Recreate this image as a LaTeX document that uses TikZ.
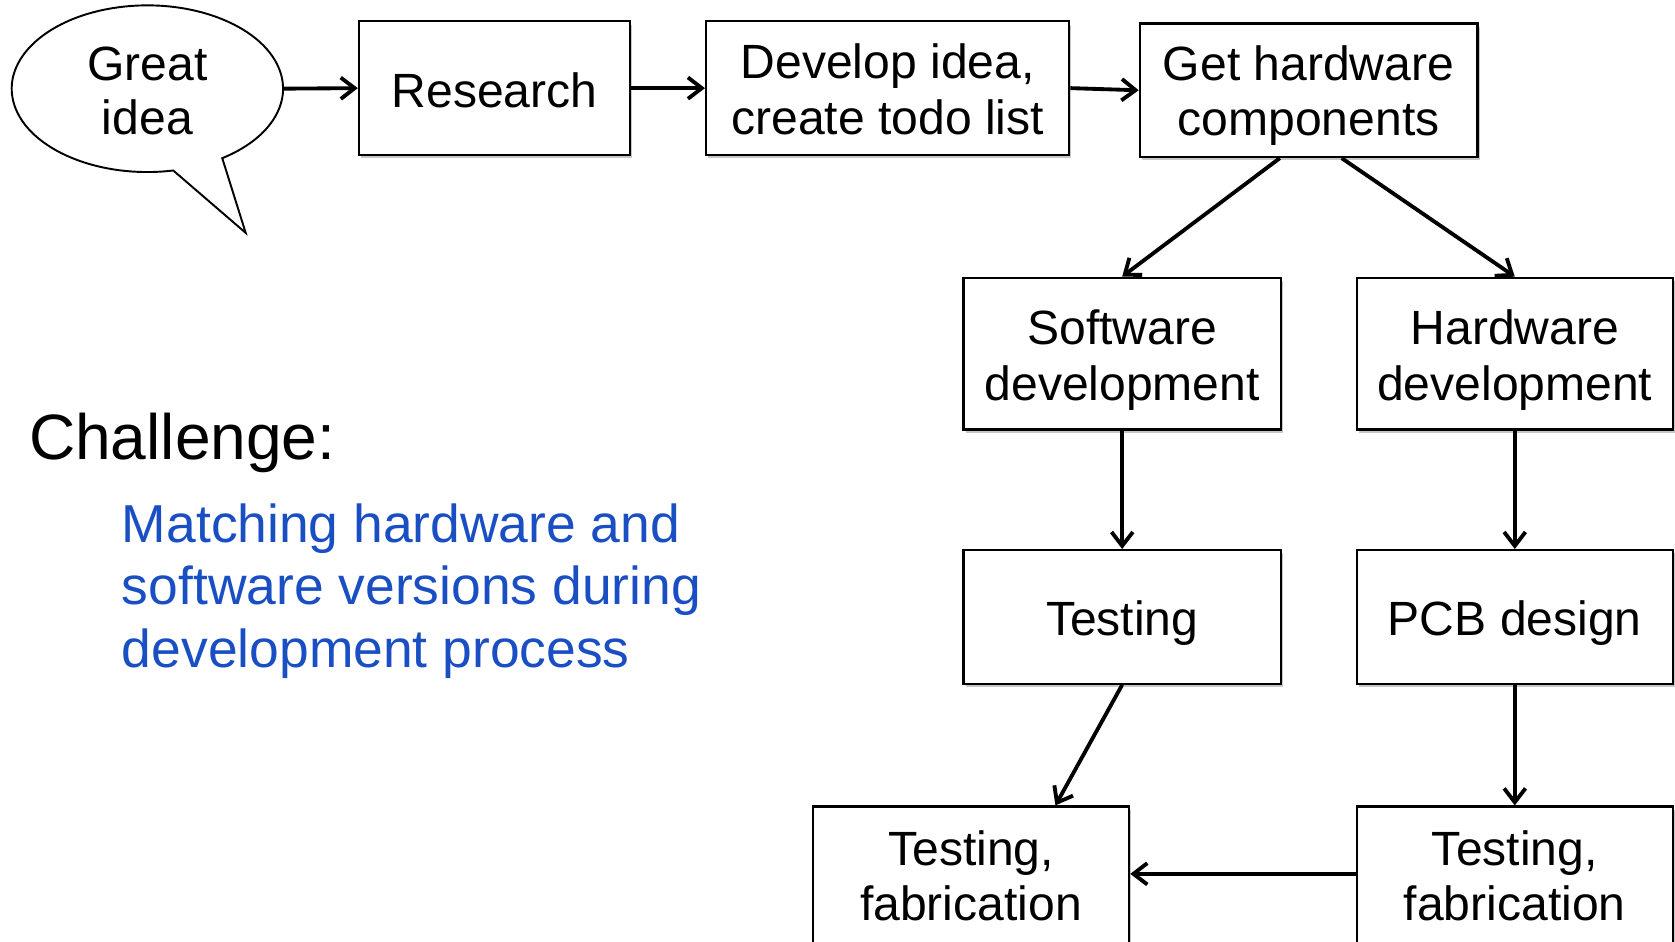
\documentclass[tikz,border=0pt]{standalone}
\usepackage{fontspec}
\setmainfont{Liberation Sans}
\usetikzlibrary{arrows.meta,shapes.geometric,shadows}
\definecolor{chblue}{HTML}{1A4FC4}
\tikzset{
  box/.style={draw=black, line width=2.1pt, fill=white, rectangle, inner sep=0pt,
    drop shadow={shadow xshift=2pt, shadow yshift=-3pt, fill=black, opacity=0.22}},
  boxtext/.style={inner sep=0pt, align=center, font=\fontsize{45}{52}\selectfont},
  conn/.style={line width=3.6pt, -{Straight Barb[length=13pt,width=20pt]}},
}
\begin{document}
\begin{tikzpicture}[x=1pt,y=-1pt]
\clip (0,0) rectangle (1568,881);
\fill[white] (0,0) rectangle (1568,881);
% speech bubble
\draw[line width=1.8pt, fill=white] (162.2,159.6) arc[start angle=79, end angle=416.5, x radius=127, y radius=78] -- (230,218) -- cycle;
\node[ellipse, minimum width=254pt, minimum height=156pt, inner sep=0pt] (idea) at (138,83) {};
\node[boxtext, font=\fontsize{45}{51}\selectfont] (idea-t) at ([yshift=-2pt]idea.center) {Great\\idea};
% boxes
\node[box, minimum width=254pt, minimum height=125pt] (res) at (463,82.5) {};
\node[box, minimum width=340pt, minimum height=125pt] (dev) at (831,82.5) {};
\node[box, minimum width=316pt, minimum height=125pt] (get) at (1225,84.5) {};
\node[box, minimum width=297pt, minimum height=142pt] (sw) at (1050.5,331) {};
\node[box, minimum width=296pt, minimum height=142pt] (hw) at (1418,331) {};
\node[box, minimum width=297pt, minimum height=125pt] (test) at (1050.5,577.5) {};
\node[box, minimum width=296pt, minimum height=125pt] (pcb) at (1418,577.5) {};
\node[box, minimum width=296pt, minimum height=134pt] (tfl) at (909,822) {};
\node[box, minimum width=296pt, minimum height=134pt] (tfr) at (1418,822) {};
% box texts
\node[boxtext] (res-t)  at ([yshift=-2pt]res.center)  {Research};
\node[boxtext] (dev-t)  at ([yshift=-1pt]dev.center)  {Develop idea,\\create todo list};
\node[boxtext] (get-t)  at ([yshift=-5pt]get.center)  {Get hardware\\components};
\node[boxtext] (sw-t)   at ([yshift=-6pt]sw.center)   {Software\\development};
\node[boxtext] (hw-t)   at ([yshift=-6pt]hw.center)   {Hardware\\development};
\node[boxtext] (test-t) at ([yshift=-6pt]test.center) {Testing};
\node[boxtext] (pcb-t)  at ([yshift=-6pt]pcb.center)  {PCB design};
\node[boxtext] (tfl-t)  at ([yshift=2pt]tfl.center)   {Testing,\\fabrication};
\node[boxtext] (tfr-t)  at ([yshift=2pt]tfr.center)   {Testing,\\fabrication};
% challenge text
\node[anchor=base west, inner sep=0pt, font=\fontsize{60}{70}\selectfont] (chal) at (27,430) {Challenge:};
\node[anchor=base west, inner sep=0pt, text=chblue, font=\fontsize{50}{59}\selectfont] (bl1) at (114,508) {Matching hardware and};
\node[anchor=base west, inner sep=0pt, text=chblue, font=\fontsize{50}{59}\selectfont] (bl2) at (114,566) {software versions during};
\node[anchor=base west, inner sep=0pt, text=chblue, font=\fontsize{50}{59}\selectfont] (bl3) at (114,625) {development process};
% connectors
\draw[conn] (idea.east) -- (res.west);
\draw[conn] (res.east) -- (dev.west);
\draw[conn] (dev.east) -- (get.west);
\draw[conn] ([xshift=-27pt]get.south) -- (sw.north);
\draw[conn] ([xshift=31pt]get.south) -- (hw.north);
\draw[conn] (sw.south) -- (test.north);
\draw[conn] (hw.south) -- (pcb.north);
\draw[conn] (test.south) -- ([xshift=79pt]tfl.north);
\draw[conn] (pcb.south) -- (tfr.north);
\draw[conn] ([yshift=4pt]tfr.west) -- ([yshift=4pt]tfl.east);
\end{tikzpicture}
\end{document}
